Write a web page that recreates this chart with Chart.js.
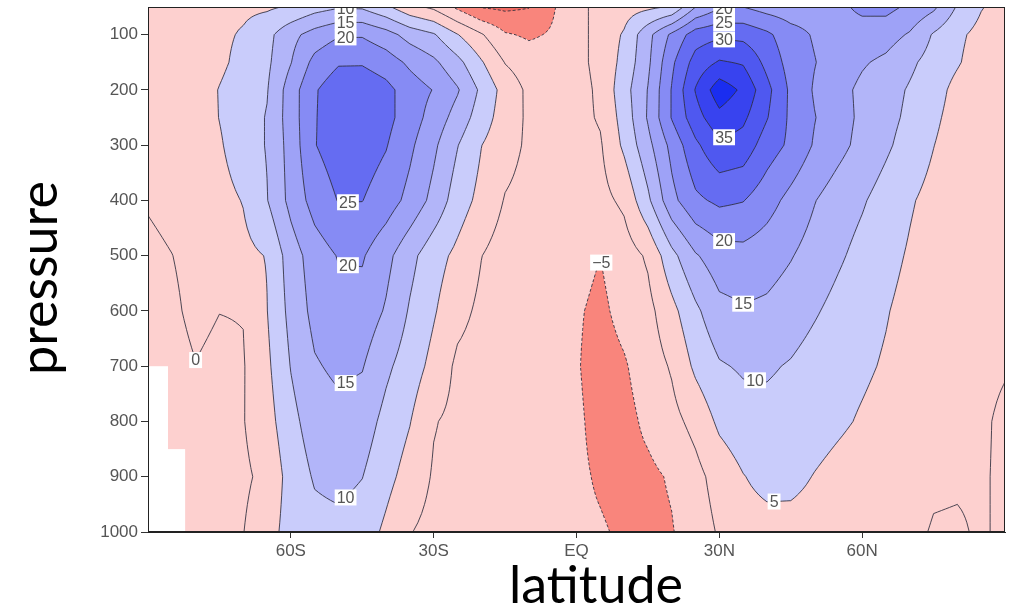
<!DOCTYPE html>
<html>
<head>
<meta charset="utf-8">
<title>Zonal mean zonal wind</title>
<script src="https://cdn.jsdelivr.net/npm/chart.js@4.4.1/dist/chart.umd.min.js"></script>
<style>
  html, body { margin: 0; padding: 0; background: #fff; }
  #wrap { width: 1012px; height: 612px; }
</style>
</head>
<body>
<div id="wrap"><canvas id="chart" width="1012" height="612"></canvas></div>
<script>
/* ============================================
   ZONAL MEAN ZONAL WIND (m/s), latitude x pressure
   ============================================ */

const latitudes = [-90, -85, -80, -75, -70, -65, -60, -55, -50, -45, -40, -35, -30, -25, -20, -15, -10, -5,
  0, 5, 10, 15, 20, 25, 30, 35, 40, 45, 50, 55, 60, 65, 70, 75, 80, 85, 90];
const pressureLevels = [50, 100, 150, 200, 250, 300, 400, 500, 600, 700, 800, 900, 1000];

// one row per pressure level, one value per latitude (null = below ground)
const u50   = [3, 3, 3.5, 4, 4, 4.3, 5.5, 8, 9.5, 9.3, 6, 1.5, -1, -6, -10.3, -11, -10.2, -5.5, -1.5, 1.5, 3, 4, 5.5, 15, 19.5, 20, 18, 17, 17.5, 19, 21, 21.5, 19, 16, 9.5, 5.3, 3];
const u100  = [2, 2.5, 3, 4, 5.5, 8.5, 13.5, 17, 19.5, 19.5, 17, 13, 10.5, 5.2, 0.5, -4.5, -5.7, -4.5, -2, 2, 5.5, 13.5, 21, 27.5, 29, 28.5, 26, 22, 19.5, 18.5, 18, 17, 14.5, 9.5, 6, 3.5, 2.5];
const u150  = [1.5, 2, 2.5, 4, 6.5, 9, 14.8, 21.5, 24.5, 24.5, 22.5, 19, 16, 11.5, 5.5, -0.2, -2.5, -3, -1.5, 1.5, 6.5, 14, 24, 32, 35.5, 34.5, 28.5, 23, 20.2, 17.5, 15.5, 14, 11, 8, 5.5, 2.5, 1.5];
const u200  = [1, 1.5, 2.5, 5.2, 7.5, 9.7, 17.5, 24.5, 28, 28.5, 26.5, 22.5, 19.8, 15.5, 9, 3, -1, -2, -2, 1, 8, 15.2, 25.3, 35.3, 43, 39, 31.5, 24, 19.5, 16.5, 14, 12, 9.5, 7, 3.5, 1, 0.5];
const u250  = [1, 1.5, 2.5, 5.1, 7.5, 10.3, 17.5, 24.6, 28.5, 28.7, 26.5, 22.5, 18, 13, 7.5, 2.5, -0.8, -1.5, -1.5, 0.5, 7, 15.5, 25.3, 33, 38.5, 36, 30.3, 24, 20.2, 17, 14, 11.5, 9, 6, 3, 1.5, 1];
const u300  = [1.2, 1.5, 2.5, 4.5, 7.5, 10.3, 17, 24.8, 27.5, 27.5, 25.3, 21, 16, 10.2, 5.1, 1.8, -0.8, -1.5, -2, -0.5, 6, 13.5, 21.5, 29, 34, 33, 27.5, 24, 19.5, 16.5, 13.5, 10.8, 8, 5.1, 2.5, 1.5, 1];
const u400  = [0.3, 1, 2, 3.5, 5.2, 9.8, 16.5, 22, 25.2, 25.1, 22.5, 18.5, 13.5, 7.5, 3.5, -0.3, -1.5, -2, -2, -1.5, 1, 9, 18.5, 24, 26, 25.2, 22, 18.5, 15.2, 12.5, 10.5, 8, 5.5, 3.5, 2, 1.2, 0.8];
const u500  = [-0.8, -0.05, 1, 2.5, 3.8, 5.2, 12.5, 17.5, 20.3, 20.5, 16.5, 11.5, 7, 3.8, 0.1, -2.2, -3, -3.2, -3.5, -4.97, -2.5, 0.7, 8.5, 14.5, 17.8, 18.3, 17.2, 15.3, 13, 10.7, 8.5, 6.5, 4.5, 2.5, 1.5, 1, 0.8];
const u600  = [-1.5, -0.6, 0.8, 0.05, 0.15, 4.9, 11.5, 16.5, 18.3, 18, 14.5, 9.5, 5.5, 1.5, -1, -2.5, -3.5, -4, -4.5, -6, -3.5, -1.5, 3.5, 9, 13.5, 14.5, 14, 12.5, 10.5, 8.5, 6.8, 5.3, 3.5, 2, 1.2, 0.8, 0.6];
const u700  = [null, -1.2, -0.1, -0.8, -0.3, 4, 10.2, 14.5, 16, 15.3, 11, 7.5, 3.5, -1, -2, -3, -3.5, -4.2, -4.6, -7, -5.5, -2.5, 0.5, 6, 9.5, 10.6, 10.6, 9.6, 8, 6.8, 5.8, 4.5, 3, 2, 1.2, 0.6, 0.2];
const u800  = [null, -1.5, -1, -1, -0.2, 3, 8.5, 12.5, 13.5, 12.5, 8.5, 5.2, 0.3, -1.2, -2.2, -3, -3.5, -4, -4.2, -6.5, -6.5, -4, -1.5, 1.5, 6, 8, 8.5, 8, 7, 5.8, 4.5, 3.3, 2.2, 1.5, 1, 0.4, -0.5];
const u900  = [null, null, -1.2, -1, -0.8, 1.2, 7, 10.5, 11.5, 10.1, 6.5, 3, -0.5, -1.5, -2.5, -3, -3.5, -4, -4.2, -5.5, -6.5, -6, -4.5, -1.5, 2, 4.8, 6.5, 6.3, 4.8, 3.5, 2.5, 1.8, 1.2, 0.4, 0.3, 0.3, -0.5];
const u1000 = [null, null, -1.5, -1, -0.1, 3, 7, 8.3, 8.5, 7.5, 4, 0.2, -1.5, -2.2, -2.5, -2.8, -3, -3.5, -4.2, -4.6, -5.6, -6.5, -5.3, -2.5, 0.5, 3, 3.2, 3.3, 3, 2.5, 2, 1.5, 0.6, -0.2, -0.3, 0.3, -0.5];
const zonalWind = [u50, u100, u150, u200, u250, u300, u400, u500, u600, u700, u800, u900, u1000];

const contourLevels = [-10, -5, 0, 5, 10, 15, 20, 25, 30, 35, 40];
const shadeEdges = [-10, -5, 5, 10, 15, 20, 25, 30, 35, 40];

const latTicks = [-60, -30, 0, 30, 60];
const latTickLabels = ['60S', '30S', 'EQ', '30N', '60N'];
const pressureTicks = [100, 200, 300, 400, 500, 600, 700, 800, 900, 1000];

// labelled contours: value, latitude of the label, rough pressure to search near
const labelValues = [10, 15, 20, 25, 20, 15, 10, 0, -5, 20, 25, 30, 35, 20, 15, 10, 5];
const labelLats   = [-48.5, -48.5, -48.5, -48, -48, -48.5, -48.5, -80, 5.2, 31, 31, 31, 31, 31, 35, 37.5, 41.5];
const labelNearP  = [55, 82, 103, 410, 545, 745, 950, 700, 500, 62, 86, 109, 280, 471, 576, 721, 937];

// no data under the Antarctic surface
const groundLatEdges = [-85.8, -82.2];
const groundTopP = [700, 850];

/* ============================================
   STYLE
   ============================================ */

const shadeColors = [
  '#f26b63', // < -10
  '#f9857c', // -10 .. -5
  '#fdd0cf', // -5 .. 5
  '#c9ccfb', // 5 .. 10
  '#b2b5f9', // 10 .. 15
  '#9ea2f7', // 15 .. 20
  '#868bf4', // 20 .. 25
  '#656cf2', // 25 .. 30
  '#4f58f0', // 30 .. 35
  '#3843ef', // 35 .. 40
  '#1a2df0'  // > 40
];
const tickFont = { family: "'Liberation Sans', 'DejaVu Sans', sans-serif", size: 17 };
const tickColor = '#555';
const titleFontCss = "52px Lato, 'Open Sans', sans-serif";

/* ============================================
   FIELD HELPERS
   ============================================ */

function bracket(arr, v) {
  let i = 0;
  while (i < arr.length - 2 && v > arr[i + 1]) i++;
  return i;
}

// bilinear value inside the grid, skipping missing corners
function windAt(lat, p) {
  const i = bracket(latitudes, lat);
  const j = bracket(pressureLevels, p);
  const tx = Math.min(1, Math.max(0, (lat - latitudes[i]) / (latitudes[i + 1] - latitudes[i])));
  const ty = Math.min(1, Math.max(0, (p - pressureLevels[j]) / (pressureLevels[j + 1] - pressureLevels[j])));
  const corners = [
    [zonalWind[j][i], (1 - tx) * (1 - ty)],
    [zonalWind[j][i + 1], tx * (1 - ty)],
    [zonalWind[j + 1][i], (1 - tx) * ty],
    [zonalWind[j + 1][i + 1], tx * ty]
  ];
  let sum = 0, wsum = 0, plain = 0, n = 0;
  for (const [v, w] of corners) {
    if (v === null) continue;
    sum += v * w; wsum += w; plain += v; n++;
  }
  if (wsum > 1e-9) return sum / wsum;
  return n ? plain / n : 0;
}

function shadeIndex(v) {
  let k = 0;
  while (k < shadeEdges.length && v >= shadeEdges[k]) k++;
  return k;
}

function hexToRgb(hex) {
  const n = parseInt(hex.slice(1), 16);
  return [(n >> 16) & 255, (n >> 8) & 255, n & 255];
}

// fine grid used for the contour lines
function fineAxis(arr, steps) {
  const out = [];
  for (let i = 0; i < arr.length - 1; i++) {
    for (let s = 0; s < steps; s++) out.push(arr[i] + (arr[i + 1] - arr[i]) * s / steps);
  }
  out.push(arr[arr.length - 1]);
  return out;
}

// marching squares, segments chained into polylines
function traceLevel(level, V, fLat, fP) {
  const nx = fLat.length, ny = fP.length;
  const pts = new Map();
  const segs = [];
  const cross = (key, lat0, p0, v0, lat1, p1, v1) => {
    if (!pts.has(key)) {
      const t = (level - v0) / (v1 - v0);
      pts.set(key, [lat0 + t * (lat1 - lat0), p0 + t * (p1 - p0)]);
    }
    return key;
  };
  for (let j = 0; j < ny - 1; j++) {
    for (let i = 0; i < nx - 1; i++) {
      const va = V[j][i], vb = V[j][i + 1], vc = V[j + 1][i + 1], vd = V[j + 1][i];
      const a = va >= level, b = vb >= level, c = vc >= level, d = vd >= level;
      if (a === b && b === c && c === d) continue;
      const edge = (k) => {
        if (k === 0) return cross('h' + i + '_' + j, fLat[i], fP[j], va, fLat[i + 1], fP[j], vb);
        if (k === 1) return cross('v' + (i + 1) + '_' + j, fLat[i + 1], fP[j], vb, fLat[i + 1], fP[j + 1], vc);
        if (k === 2) return cross('h' + i + '_' + (j + 1), fLat[i], fP[j + 1], vd, fLat[i + 1], fP[j + 1], vc);
        return cross('v' + i + '_' + j, fLat[i], fP[j], va, fLat[i], fP[j + 1], vd);
      };
      const flags = [a !== b, b !== c, d !== c, a !== d];
      const ks = [0, 1, 2, 3].filter(k => flags[k]);
      if (ks.length === 2) {
        segs.push([edge(ks[0]), edge(ks[1])]);
      } else if (ks.length === 4) {
        const centre = (va + vb + vc + vd) / 4 >= level;
        if (centre === a) { segs.push([edge(0), edge(1)]); segs.push([edge(2), edge(3)]); }
        else { segs.push([edge(0), edge(3)]); segs.push([edge(1), edge(2)]); }
      }
    }
  }

  const adj = new Map();
  segs.forEach((s, k) => s.forEach(key => {
    if (!adj.has(key)) adj.set(key, []);
    adj.get(key).push(k);
  }));
  const used = new Uint8Array(segs.length);
  const grow = (line) => {
    for (;;) {
      const tail = line[line.length - 1];
      const next = (adj.get(tail) || []).find(k => !used[k]);
      if (next === undefined) break;
      used[next] = 1;
      const s = segs[next];
      line.push(s[0] === tail ? s[1] : s[0]);
    }
  };
  const lines = [];
  for (let k = 0; k < segs.length; k++) {
    if (used[k]) continue;
    used[k] = 1;
    const line = [segs[k][0], segs[k][1]];
    grow(line);
    line.reverse();
    grow(line);
    lines.push(line.map(key => pts.get(key)));
  }
  return lines;
}

// pressure where the contour `value` crosses the column at `lat`, nearest to `nearP`
function crossingPressure(value, lat, nearP) {
  let best = null;
  for (let p = pressureLevels[0]; p < pressureLevels[pressureLevels.length - 1]; p += 0.5) {
    const v0 = windAt(lat, p) - value, v1 = windAt(lat, p + 0.5) - value;
    if (v0 === v1 || v0 * v1 > 0) continue;
    const pc = p + 0.5 * v0 / (v0 - v1);
    if (best === null || Math.abs(pc - nearP) < Math.abs(best - nearP)) best = pc;
  }
  return best === null ? nearP : best;
}

/* ============================================
   CONTOUR PLUGIN
   ============================================ */

const contourPlugin = {
  id: 'contourField',
  beforeDatasetsDraw(chart) {
    const { ctx, chartArea: area } = chart;
    const xs = chart.scales.x, ys = chart.scales.y;
    const w = Math.round(area.right - area.left);
    const h = Math.round(area.bottom - area.top);

    // shaded bands
    const off = document.createElement('canvas');
    off.width = w; off.height = h;
    const octx = off.getContext('2d');
    const img = octx.createImageData(w, h);
    const rgb = shadeColors.map(hexToRgb);
    const colLat = [];
    for (let px = 0; px < w; px++) colLat.push(xs.getValueForPixel(area.left + px + 0.5));
    for (let py = 0; py < h; py++) {
      const p = ys.getValueForPixel(area.top + py + 0.5);
      for (let px = 0; px < w; px++) {
        const c = rgb[shadeIndex(windAt(colLat[px], p))];
        const o = (py * w + px) * 4;
        img.data[o] = c[0]; img.data[o + 1] = c[1]; img.data[o + 2] = c[2]; img.data[o + 3] = 255;
      }
    }
    octx.putImageData(img, 0, 0);

    ctx.save();
    ctx.beginPath();
    ctx.rect(area.left, area.top, area.right - area.left, area.bottom - area.top);
    ctx.clip();
    ctx.drawImage(off, area.left, area.top);

    // contour lines
    const N = 6;
    const fLat = fineAxis(latitudes, N);
    const fP = fineAxis(pressureLevels, N);
    const V = fP.map(p => fLat.map(lat => windAt(lat, p)));
    ctx.strokeStyle = 'rgba(45, 45, 60, 0.85)';
    ctx.lineWidth = 1;
    ctx.lineJoin = 'round';
    contourLevels.forEach(level => {
      ctx.setLineDash(level < 0 ? [3, 2] : []);
      traceLevel(level, V, fLat, fP).forEach(line => {
        ctx.beginPath();
        line.forEach(([lat, p], k) => {
          const X = xs.getPixelForValue(lat), Y = ys.getPixelForValue(p);
          if (k === 0) ctx.moveTo(X, Y); else ctx.lineTo(X, Y);
        });
        ctx.stroke();
      });
    });
    ctx.setLineDash([]);

    // contour labels on white boxes
    ctx.font = "16px 'Liberation Sans', 'DejaVu Sans', sans-serif";
    ctx.textAlign = 'center';
    ctx.textBaseline = 'middle';
    labelValues.forEach((value, k) => {
      const p = crossingPressure(value, labelLats[k], labelNearP[k]);
      const X = xs.getPixelForValue(labelLats[k]), Y = ys.getPixelForValue(p);
      const text = value < 0 ? '\u2212' + Math.abs(value) : String(value);
      const tw = ctx.measureText(text).width + 4;
      ctx.fillStyle = '#fff';
      ctx.fillRect(X - tw / 2, Y - 8, tw, 16);
      ctx.fillStyle = '#555';
      ctx.fillText(text, X, Y + 1);
    });

    // missing data under the surface
    ctx.fillStyle = '#fff';
    groundLatEdges.forEach((edge, k) => {
      const x0 = xs.getPixelForValue(latitudes[0]), x1 = xs.getPixelForValue(edge);
      const y0 = ys.getPixelForValue(groundTopP[k]), y1 = ys.getPixelForValue(pressureLevels[pressureLevels.length - 1]);
      ctx.fillRect(x0, y0, x1 - x0, y1 - y0);
    });
    ctx.restore();
  },
  afterDraw(chart) {
    const { ctx, chartArea: area } = chart;
    ctx.save();
    ctx.strokeStyle = '#222';
    ctx.lineWidth = 1;
    ctx.strokeRect(area.left + 0.5, area.top + 0.5, area.right - area.left - 1, area.bottom - area.top - 1);

    // axis titles
    ctx.fillStyle = '#000';
    ctx.font = titleFontCss;
    ctx.textAlign = 'center';
    ctx.textBaseline = 'middle';
    ctx.fillText('latitude', 596, 586);
    ctx.translate(40, 278);
    ctx.rotate(-Math.PI / 2);
    ctx.fillText('pressure', 0, 0);
    ctx.restore();
  }
};

/* ============================================
   CHART
   ============================================ */

const gridPoints = [];
pressureLevels.forEach((p, j) => latitudes.forEach((lat, i) => {
  if (zonalWind[j][i] !== null) gridPoints.push({ x: lat, y: p, u: zonalWind[j][i] });
}));

new Chart(document.getElementById('chart').getContext('2d'), {
  type: 'scatter',
  data: {
    datasets: [{
      label: 'zonal wind',
      data: gridPoints,
      pointRadius: 0,
      pointHoverRadius: 0,
      showLine: false
    }]
  },
  options: {
    responsive: false,
    animation: false,
    events: [],
    layout: { padding: { top: 7, right: 7, left: 0, bottom: 0 } },
    plugins: {
      legend: { display: false },
      tooltip: { enabled: false }
    },
    scales: {
      x: {
        type: 'linear',
        min: -90,
        max: 90,
        afterBuildTicks: (scale) => { scale.ticks = latTicks.map(v => ({ value: v })); },
        afterFit: (scale) => { scale.height = 80; scale.paddingLeft = 0; scale.paddingRight = 0; },
        ticks: {
          callback: (value, index) => latTickLabels[index],
          font: tickFont,
          color: tickColor,
          padding: 3,
          maxRotation: 0
        },
        grid: { drawOnChartArea: false, tickLength: 6, color: '#333' },
        border: { color: '#222' }
      },
      y: {
        type: 'linear',
        reverse: true,
        min: 50,
        max: 1000,
        afterBuildTicks: (scale) => { scale.ticks = pressureTicks.map(v => ({ value: v })); },
        afterFit: (scale) => { scale.width = 148; scale.paddingTop = 0; scale.paddingBottom = 0; },
        ticks: {
          callback: (value) => String(value),
          font: tickFont,
          color: tickColor,
          padding: 3
        },
        grid: { drawOnChartArea: false, tickLength: 7, color: '#333' },
        border: { color: '#222' }
      }
    }
  },
  plugins: [contourPlugin]
});
</script>
</body>
</html>
